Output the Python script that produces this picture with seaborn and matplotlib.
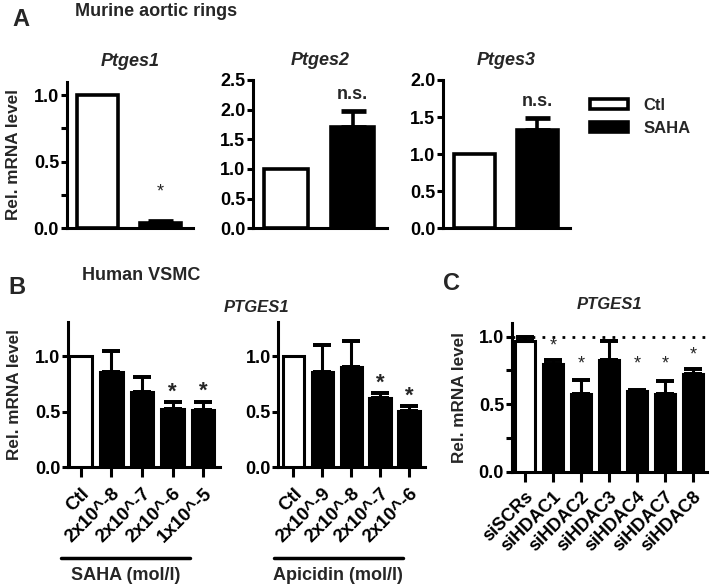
import numpy as np
import pandas as pd
import matplotlib
matplotlib.use("Agg")
import matplotlib.pyplot as plt
import seaborn as sns
from matplotlib.patches import Patch
from matplotlib.ticker import FormatStrFormatter, MultipleLocator

# -----------------------------
# Data
# -----------------------------
groups_a = ["Ctl", "SAHA"]
ptges1_mean = [1.0, 0.04]
ptges1_err = [0.0, 0.012]
ptges2_mean = [1.0, 1.70]
ptges2_err = [0.0, 0.28]
ptges3_mean = [1.0, 1.32]
ptges3_err = [0.0, 0.17]

saha_labels = ["Ctl", "2x10^-8", "2x10^-7", "2x10^-6", "1x10^-5"]
saha_mean = [1.0, 0.86, 0.68, 0.525, 0.515]
saha_err = [0.0, 0.19, 0.13, 0.06, 0.075]
saha_sig = [False, False, False, True, True]

apicidin_labels = ["Ctl", "2x10^-9", "2x10^-8", "2x10^-7", "2x10^-6"]
apicidin_mean = [1.0, 0.86, 0.90, 0.625, 0.505]
apicidin_err = [0.0, 0.24, 0.24, 0.04, 0.045]
apicidin_sig = [False, False, False, True, True]

sirna_labels = ["siSCRs", "siHDAC1", "siHDAC2", "siHDAC3", "siHDAC4", "siHDAC7", "siHDAC8"]
sirna_mean = [0.97, 0.80, 0.575, 0.825, 0.60, 0.575, 0.72]
sirna_err = [0.03, 0.025, 0.105, 0.145, 0.005, 0.095, 0.04]
sirna_star_y = [None, 0.93, 0.80, None, 0.80, 0.80, 0.86]

# -----------------------------
# Style
# -----------------------------
sns.set_style("ticks")
plt.rcParams["font.family"] = ["Liberation Sans", "DejaVu Sans"]
plt.rcParams["font.weight"] = "bold"
plt.rcParams["axes.linewidth"] = 2.2
plt.rcParams["xtick.major.width"] = 2.2
plt.rcParams["ytick.major.width"] = 2.2
plt.rcParams["ytick.minor.width"] = 2.2
plt.rcParams["ytick.major.size"] = 4
plt.rcParams["ytick.minor.size"] = 4
plt.rcParams["xtick.color"] = "black"
plt.rcParams["ytick.color"] = "black"
plt.rcParams["axes.edgecolor"] = "black"

W, H = 711, 587
TICK_FS = 13
LABEL_FS = 12.3


def px_axes(fig, x0, y0, x1, y1):
    return fig.add_axes([x0 / W, 1 - y1 / H, (x1 - x0) / W, (y1 - y0) / H])


def draw_bars(ax, labels, means, errs, width, lw, capsize):
    df = pd.DataFrame({"group": labels, "value": means})
    colors = ["white"] + ["black"] * (len(labels) - 1)
    sns.barplot(data=df, x="group", y="value", hue="group", palette=colors,
                legend=False, width=width, edgecolor="black", linewidth=lw,
                saturation=1, errorbar=None, ax=ax, zorder=3)
    x = np.arange(len(labels))
    means = np.array(means)
    errs = np.array(errs)
    m = errs > 0
    ax.errorbar(x[m], means[m], yerr=[np.zeros(m.sum()), errs[m]], fmt="none",
                ecolor="black", elinewidth=lw, capsize=capsize, capthick=lw * 1.3,
                zorder=2)
    sns.despine(ax=ax)
    ax.set_xlabel("")
    ax.set_ylabel("")
    ax.yaxis.set_major_formatter(FormatStrFormatter("%.1f"))
    ax.tick_params(axis="y", labelsize=TICK_FS, pad=1.5)


fig = plt.figure(figsize=(W / 100, H / 100), dpi=100)

# -----------------------------
# Panel A
# -----------------------------
ax1 = px_axes(fig, 66.7, 81.7, 192.7, 228.3)
ax2 = px_axes(fig, 253, 80, 387, 228.3)
ax3 = px_axes(fig, 443, 80, 570, 228.3)

specs_a = [
    (ax1, "Ptges1", ptges1_mean, ptges1_err, 1.1, "*"),
    (ax2, "Ptges2", ptges2_mean, ptges2_err, 2.5, "n.s."),
    (ax3, "Ptges3", ptges3_mean, ptges3_err, 2.0, "n.s."),
]
for ax, name, mean, err, ymax, mark in specs_a:
    draw_bars(ax, groups_a, mean, err, 0.66, 2.6, 9)
    ax.set_ylim(0, ymax)
    ax.set_xlim(-0.5, 1.52)
    ax.yaxis.set_major_locator(MultipleLocator(0.5))
    ax.tick_params(axis="x", length=0, labelbottom=False)
    ax.set_title(name, fontsize=13, fontstyle="italic", fontweight="bold", pad=11)
    top = mean[1] + err[1]
    if mark == "*":
        ax.text(1, 0.27, "*", ha="center", va="center", fontsize=13, fontweight="normal")
    else:
        ax.text(1, top + 0.11 * ymax, "n.s.", ha="center", va="center", fontsize=13)

ax1.yaxis.set_minor_locator(MultipleLocator(0.25))
ax1.set_ylabel("Rel. mRNA level", fontsize=LABEL_FS, fontweight="bold")
ax1.yaxis.set_label_coords(-0.36, 0.5)

fig.legend(handles=[Patch(facecolor="white", edgecolor="black", linewidth=2.6, label="Ctl"),
                    Patch(facecolor="black", edgecolor="black", linewidth=2.6, label="SAHA")],
           loc="center left", bbox_to_anchor=(590 / W, 1 - 117 / H), frameon=False,
           fontsize=12, handlelength=2.3, handleheight=0.55, labelspacing=0.45,
           handletextpad=0.9, borderpad=0, borderaxespad=0)

fig.text(12 / W, 1 - 19 / H, "A", fontsize=17, fontweight="bold", va="center", ha="left")
fig.text(75 / W, 1 - 11 / H, "Murine aortic rings", fontsize=13, fontweight="bold", va="center", ha="left")

# -----------------------------
# Panel B
# -----------------------------
fig.text(8 / W, 1 - 287 / H, "B", fontsize=17, fontweight="bold", va="center", ha="left")
fig.text(82 / W, 1 - 275 / H, "Human VSMC", fontsize=13, fontweight="bold", va="center", ha="left")
fig.text(257 / W, 1 - 307 / H, "PTGES1", fontsize=12, fontstyle="italic", fontweight="bold",
         va="center", ha="center")

axs = px_axes(fig, 68, 321.7, 220, 467)
axa = px_axes(fig, 278.3, 321.7, 425, 467)
specs_b = [
    (axs, saha_labels, saha_mean, saha_err, saha_sig, -0.41, 4.55, "SAHA (mol/l)", (-0.048, 0.803, 0.378)),
    (axa, apicidin_labels, apicidin_mean, apicidin_err, apicidin_sig, -0.52, 4.55, "Apicidin (mol/l)", (-0.029, 0.848, 0.409)),
]
for ax, labels, mean, err, sig, x0, x1, drug, (lx0, lx1, lxc) in specs_b:
    draw_bars(ax, labels, mean, err, 0.74, 2.2, 6.5)
    ax.set_ylim(0, 1.31)
    ax.set_xlim(x0, x1)
    ax.yaxis.set_major_locator(MultipleLocator(0.5))
    ax.set_xticks(range(len(labels)))
    ax.set_xticklabels(labels, rotation=45, ha="right", rotation_mode="anchor", fontsize=13.5)
    ax.tick_params(axis="x", length=7, pad=6)
    for i, s in enumerate(sig):
        if s:
            ax.text(i, mean[i] + err[i] + 0.09, "*", ha="center", va="center", fontsize=16)
    ax.plot([lx0, lx1], [-0.628, -0.628], transform=ax.transAxes, clip_on=False,
            color="black", lw=2.5)
    ax.text(lxc, -0.75, drug, transform=ax.transAxes, ha="center", va="center",
            fontsize=13, fontweight="bold")

axs.set_ylabel("Rel. mRNA level", fontsize=LABEL_FS, fontweight="bold")
axs.yaxis.set_label_coords(-0.30, 0.5)

# -----------------------------
# Panel C
# -----------------------------
fig.text(443 / W, 1 - 284 / H, "C", fontsize=17, fontweight="bold", va="center", ha="left")

axc = px_axes(fig, 511.7, 323, 707, 471.7)
draw_bars(axc, sirna_labels, sirna_mean, sirna_err, 0.72, 2.2, 6.5)
axc.axhline(1.0, color="black", lw=2, linestyle=(0, (1, 2.6)), zorder=1)
axc.set_ylim(0, 1.1)
axc.set_xlim(-0.47, 6.5)
axc.yaxis.set_major_locator(MultipleLocator(0.5))
axc.yaxis.set_minor_locator(MultipleLocator(0.25))
axc.set_xticks(range(len(sirna_labels)))
axc.set_xticklabels(sirna_labels, rotation=45, ha="right", rotation_mode="anchor", fontsize=13)
axc.tick_params(axis="x", length=7, pad=5)
axc.set_title("PTGES1", fontsize=12, fontstyle="italic", fontweight="bold", pad=10)
for i, sy in enumerate(sirna_star_y):
    if sy is not None:
        axc.text(i, sy, "*", ha="center", va="center", fontsize=13, fontweight="normal")
axc.set_ylabel("Rel. mRNA level", fontsize=LABEL_FS, fontweight="bold")
axc.yaxis.set_label_coords(-0.23, 0.5)

fig.savefig("out.png", dpi=100)
